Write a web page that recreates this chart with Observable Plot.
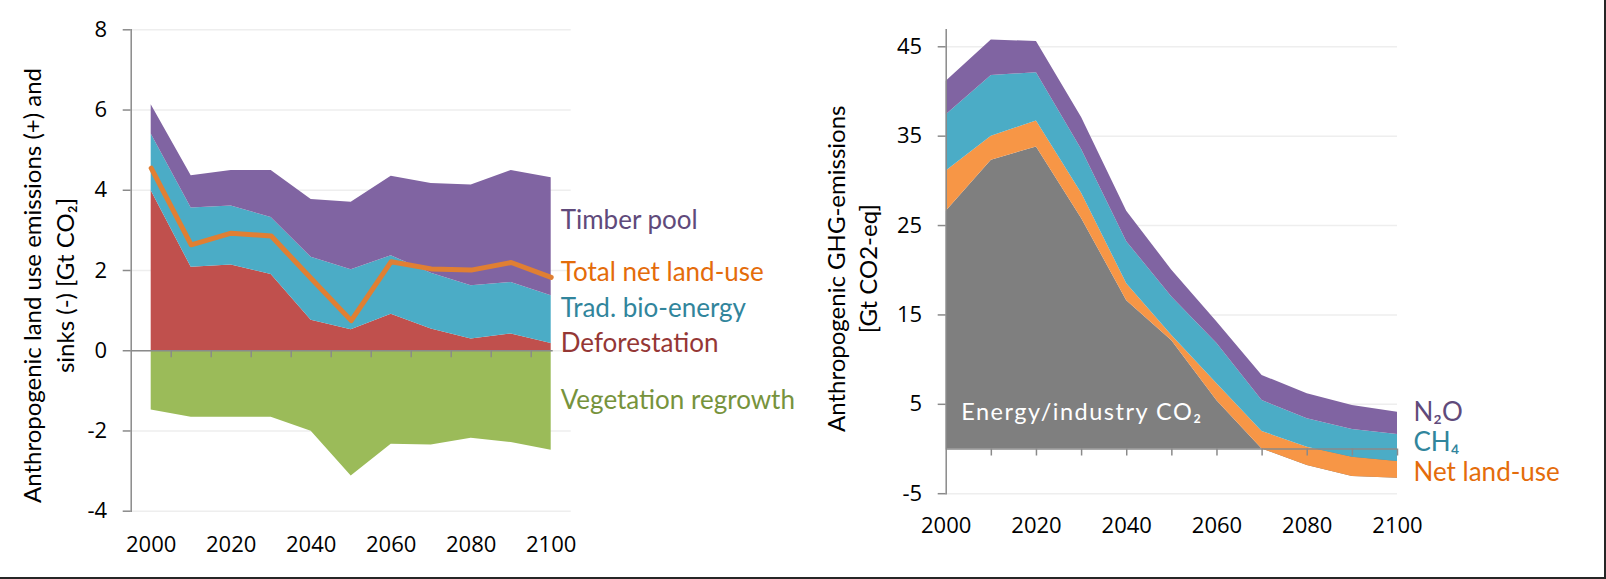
<!DOCTYPE html>
<html><head><meta charset="utf-8">
<script src="https://cdn.jsdelivr.net/npm/d3@7"></script>
<script src="https://cdn.jsdelivr.net/npm/@observablehq/plot@0.6"></script>
<style>
body{margin:0;background:#fff;}
#wrap{position:relative;width:1606px;height:579px;overflow:hidden;font-family:Lato,sans-serif;background:#fff;}
#left{position:absolute;left:0;top:0;}
#right{position:absolute;left:800px;top:0;}
#border{position:absolute;left:0;top:0;width:1606px;height:579px;box-sizing:border-box;border-right:2px solid #262626;border-bottom:2px solid #262626;pointer-events:none;}
svg{overflow:visible;}
</style></head><body>
<div id="wrap"><div id="left"></div><div id="right"></div><div id="border"></div></div>
<script>
// ---------- data ----------
const years = [2000, 2010, 2020, 2030, 2040, 2050, 2060, 2070, 2080, 2090, 2100];

// Left chart: land-use emissions (+) and sinks (-) [Gt CO2]
const deforestation      = [3.99, 2.08, 2.14, 1.90, 0.76, 0.52, 0.91, 0.54, 0.29, 0.42, 0.18];
const tradBioEnergy      = [1.41, 1.48, 1.47, 1.42, 1.57, 1.50, 1.46, 1.39, 1.33, 1.28, 1.19];
const timberPool         = [0.73, 0.80, 0.88, 1.17, 1.44, 1.68, 1.98, 2.24, 2.51, 2.79, 2.94];
const vegetationRegrowth = [-1.48, -1.66, -1.66, -1.66, -2.01, -3.12, -2.33, -2.35, -2.18, -2.29, -2.48];
const totalNetLandUse    = [4.55, 2.64, 2.93, 2.86, 1.80, 0.75, 2.22, 2.04, 2.01, 2.20, 1.83];
const leftYTicks = [-4, -2, 0, 2, 4, 6, 8];
const leftXTicks = [2000, 2020, 2040, 2060, 2080, 2100];
const leftMinorTicks = [2005, 2015, 2025, 2035, 2045, 2055, 2065, 2075, 2085, 2095];

// Right chart: anthropogenic GHG emissions [Gt CO2-eq], cumulative stack (Excel style)
const energyIndustryCO2 = [26.6, 32.3, 33.8, 25.8, 16.6, 12.1, 5.4, 0.0, -1.85, -3.08, -3.27];
const netLandUse        = [4.5, 2.7, 2.9, 2.8, 1.9, 0.6, 1.9, 1.96, 2.05, 2.17, 1.87];
const ch4               = [6.3, 6.8, 5.4, 4.9, 4.7, 4.3, 4.5, 3.47, 3.18, 3.09, 3.02];
const n2o               = [3.75, 3.95, 3.5, 3.6, 3.4, 3.0, 2.4, 2.8, 2.8, 2.69, 2.5];
const rightYTicks = [-5, 5, 15, 25, 35, 45];
const rightXTicks = [2000, 2020, 2040, 2060, 2080, 2100];
const rightMinorTicks = [2010, 2020, 2030, 2040, 2050, 2060, 2070, 2080, 2090, 2100];

// ---------- helpers ----------
function bands(series) {
  let base = years.map(() => 0);
  const out = [];
  for (const s of series) {
    years.forEach((yr, i) => out.push({key: s.key, year: yr, y1: base[i], y2: base[i] + s.values[i]}));
    base = base.map((b, i) => b + s.values[i]);
  }
  return out;
}
const C = {
  purple: "#8064A2", teal: "#4BACC6", red: "#C0504D", green: "#9BBB59",
  orange: "#F79646", line: "#E07F33", gray: "#7F7F7F", axis: "#8A8A8A", grid: "#EEEEEE"
};
const T = {
  purple: "#604A7B", teal: "#31859C", red: "#953735", green: "#77933C", orange: "#E46C0A"
};
const tickFont = 22, tickFamily = "'Open Sans', sans-serif";
const titleFont = 24, labelFont = 26;
const fmt = d => String(d);

// ---------- left chart ----------
const leftPos = bands([
  {key: "Deforestation", values: deforestation},
  {key: "Trad. bio-energy", values: tradBioEnergy},
  {key: "Timber pool", values: timberPool}
]);
const leftNeg = bands([{key: "Vegetation regrowth", values: vegetationRegrowth}]);
const leftFill = {"Deforestation": C.red, "Trad. bio-energy": C.teal, "Timber pool": C.purple, "Vegetation regrowth": C.green};
const lineRows = years.map((yr, i) => ({year: yr, v: totalNetLandUse[i]}));
const leftXDomain = [1995, 2105];

const leftLabels = [
  {t: "Timber pool", y: 3.24, c: T.purple},
  {t: "Total net land-use", y: 1.95, c: T.orange},
  {t: "Trad. bio-energy", y: 1.04, c: T.teal},
  {t: "Deforestation", y: 0.17, c: T.red},
  {t: "Vegetation regrowth", y: -1.25, c: T.green}
];

const leftAreas = ["Deforestation", "Trad. bio-energy", "Timber pool"].map(k =>
  Plot.areaY(leftPos.filter(d => d.key === k), {x: "year", y1: "y1", y2: "y2", fill: leftFill[k]}));

const left = Plot.plot({
  width: 800, height: 579,
  marginLeft: 130.7, marginRight: 800 - 570.7, marginTop: 29.3, marginBottom: 579 - 510.7,
  style: {fontFamily: "Lato, sans-serif", fontSize: tickFont + "px", color: "#000", background: "transparent"},
  x: {domain: leftXDomain},
  y: {domain: [-4, 8]},
  marks: [
    Plot.gridY(leftYTicks, {stroke: C.grid, strokeOpacity: 1, strokeWidth: 1.5}),
    Plot.areaY(leftNeg, {x: "year", y1: "y1", y2: "y2", fill: C.green}),
    ...leftAreas,
    Plot.line(lineRows, {x: "year", y: "v", stroke: C.line, strokeWidth: 5, strokeLinejoin: "round", strokeLinecap: "round"}),
    Plot.ruleY([0], {x1: () => leftXDomain[0], x2: () => years[years.length - 1], insetRight: -2, stroke: C.axis, strokeWidth: 1.5}),
    Plot.ruleX(leftMinorTicks, {x: d => d, y1: () => 0, y2: () => 0, insetTop: 7, stroke: C.axis, strokeWidth: 1.5}),
    Plot.frame({anchor: "left", stroke: C.axis, strokeWidth: 1.5}),
    Plot.axisY(leftYTicks, {tickSize: 8, tickPadding: 16, stroke: C.axis, strokeWidth: 1.5, fill: "#000", label: null, fontSize: tickFont, fontFamily: tickFamily, tickFormat: fmt}),
    Plot.axisX(leftXTicks, {tickSize: 0, tickPadding: 25, tickFormat: fmt, fill: "#000", label: null, fontSize: tickFont, fontFamily: tickFamily}),
    Plot.text(["Anthropogenic land use emissions (+) and\nsinks (-) [Gt CO\u2082]"], {
      frameAnchor: "left", rotate: -90, dx: -84, dy: 15, lineHeight: 1.36,
      fontSize: titleFont, fill: "#000", textAnchor: "middle"
    }),
    Plot.text(leftLabels, {x: () => years[years.length - 1], y: "y", text: "t", fill: "c",
      textAnchor: "start", dx: 9.5, fontSize: labelFont})
  ]
});
document.getElementById("left").appendChild(left);

// ---------- right chart ----------
const rightBands = bands([
  {key: "Energy", values: energyIndustryCO2},
  {key: "Net land-use", values: netLandUse},
  {key: "CH4", values: ch4},
  {key: "N2O", values: n2o}
]);
const rightFill = {"Energy": C.gray, "Net land-use": C.orange, "CH4": C.teal, "N2O": C.purple};
const rightAreas = ["Energy", "Net land-use", "CH4", "N2O"].map(k =>
  Plot.areaY(rightBands.filter(d => d.key === k), {x: "year", y1: "y1", y2: "y2", fill: rightFill[k]}));

const rightLabels = [
  {t: "N\u2082O", y: 4.12, c: T.purple},
  {t: "CH\u2084", y: 0.76, c: T.teal},
  {t: "Net land-use", y: -2.6, c: T.orange}
];

const right = Plot.plot({
  width: 806, height: 579,
  marginLeft: 145.7, marginRight: 806 - 597, marginTop: 29.3, marginBottom: 579 - 493.2,
  style: {fontFamily: "Lato, sans-serif", fontSize: tickFont + "px", color: "#000", background: "transparent"},
  x: {domain: [2000, 2100]},
  y: {domain: [-5, 46.9]},
  marks: [
    Plot.gridY(rightYTicks, {stroke: C.grid, strokeOpacity: 1, strokeWidth: 1.5}),
    ...rightAreas,
    Plot.ruleY([0], {stroke: C.axis, strokeWidth: 1.5}),
    Plot.ruleX(rightMinorTicks, {x: d => d, y1: () => 0, y2: () => 0, insetTop: 7, stroke: C.axis, strokeWidth: 1.5}),
    Plot.frame({anchor: "left", stroke: C.axis, strokeWidth: 1.5}),
    Plot.axisY(rightYTicks, {tickSize: 8, tickPadding: 16, stroke: C.axis, strokeWidth: 1.5, fill: "#000", label: null, fontSize: tickFont, fontFamily: tickFamily, tickFormat: fmt}),
    Plot.axisX(rightXTicks, {tickSize: 0, tickPadding: 24, tickFormat: fmt, fill: "#000", label: null, fontSize: tickFont, fontFamily: tickFamily}),
    Plot.text(["Anthropogenic GHG-emissions\n[Gt CO2-eq]"], {
      frameAnchor: "left", rotate: -90, dx: -95.7, dy: 7, lineHeight: 1.33,
      fontSize: titleFont, fill: "#000", textAnchor: "middle"
    }),
    Plot.text(["Energy/industry CO\u2082"], {x: () => years[0], y: () => 4.1, dx: 15, textAnchor: "start", fill: "#fff", fontSize: 23.5}),
    Plot.text(rightLabels, {x: () => years[years.length - 1], y: "y", text: "t", fill: "c",
      textAnchor: "start", dx: 16, fontSize: labelFont})
  ]
});
right.querySelectorAll("text").forEach(t => {
  if (t.textContent.startsWith("Energy/")) t.setAttribute("letter-spacing", "1.5");
});
document.getElementById("right").appendChild(right);
</script>
</body></html>
